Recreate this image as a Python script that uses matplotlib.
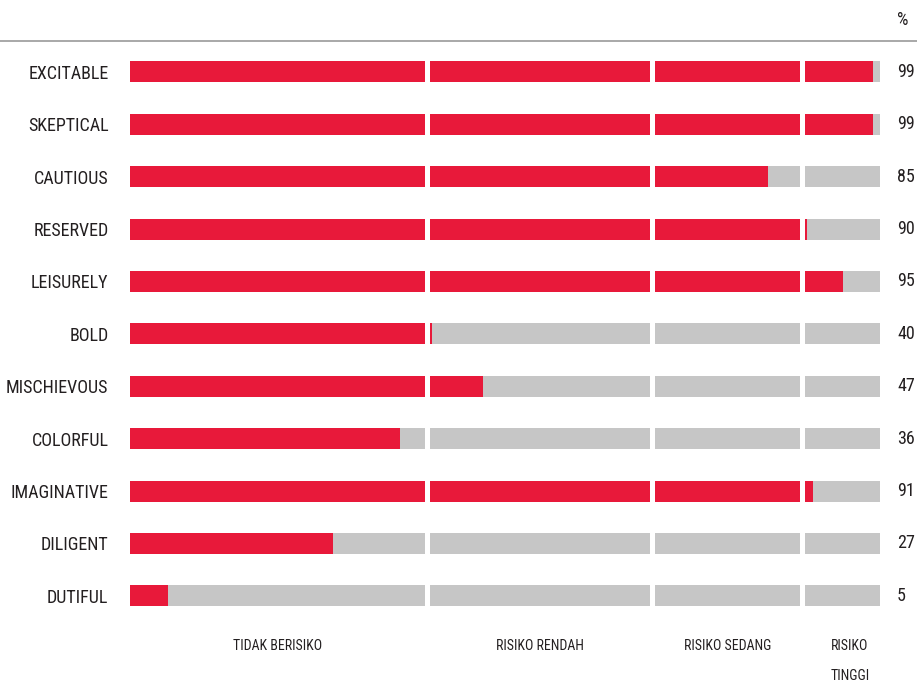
import matplotlib.pyplot as plt
from matplotlib.lines import Line2D

plt.rcParams['font.family'] = ['Roboto Condensed', 'Liberation Sans Narrow', 'DejaVu Sans']
plt.rcParams['font.stretch'] = 'condensed'

TRAITS = ["EXCITABLE", "SKEPTICAL", "CAUTIOUS", "RESERVED", "LEISURELY", "BOLD",
          "MISCHIEVOUS", "COLORFUL", "IMAGINATIVE", "DILIGENT", "DUTIFUL"]
SCORES = [99, 99, 85, 90.3, 95, 40.3, 47, 36, 91, 27, 5]
SCORE_LABELS = ["99", "99", "85", "90", "95", "40", "47", "36", "91", "27", "5"]

# zona risiko (batas dalam persen)
ZONES = [0, 40, 70, 90, 100]
ZONE_NAMES = ["TIDAK BERISIKO", "RISIKO RENDAH", "RISIKO SEDANG", "RISIKO\nTINGGI"]

RED = '#e8193a'
GREY = '#c6c6c6'
TXT = '#231f20'
W, H = 917, 683
GAP = 0.67  # celah putih antar zona

fig = plt.figure(figsize=(W / 100, H / 100), dpi=100)
ax = fig.add_axes([130 / W, 1 - 622 / H, 750 / W, (622 - 41) / H])

rows = list(range(len(TRAITS)))
for i, v in zip(rows, SCORES):
    for a, b in zip(ZONES[:-1], ZONES[1:]):
        end = b - GAP if b < 100 else b
        ax.barh(i, end - a, left=a, height=0.40, color=GREY, linewidth=0)
        if v > a:
            ax.barh(i, min(v, end) - a, left=a, height=0.40, color=RED, linewidth=0)

ax.set_xlim(0, 100)
ax.set_ylim(10.5, -0.59)
ax.set_yticks(rows)
ax.set_yticklabels(TRAITS, fontsize=13, color=TXT)
ax.tick_params(axis='y', length=0, pad=15.5)
ax.set_xticks([])
for s in ax.spines.values():
    s.set_visible(False)

# angka persen di kanan
for i, lab in zip(rows, SCORE_LABELS):
    ax.text((897 - 130) / 750, i, lab, transform=ax.get_yaxis_transform(),
            fontsize=13, color=TXT, va='center', ha='left', clip_on=False)

centers = [(a + b - GAP) / 2 for a, b in zip(ZONES[:-1], ZONES[1:])]
centers[-1] = 96.0
for c, name in zip(centers, ZONE_NAMES):
    ax.text(c, 10.83, name, fontsize=10, color=TXT, ha='center', va='top',
            linespacing=2.45, clip_on=False)

fig.text(903 / W, 1 - 20 / H, "%", fontsize=13, color=TXT, ha='center', va='center')
fig.add_artist(Line2D([0, 1], [1 - 41 / H, 1 - 41 / H], color='#999999', lw=1.2))

fig.savefig("out.png", dpi=100)
